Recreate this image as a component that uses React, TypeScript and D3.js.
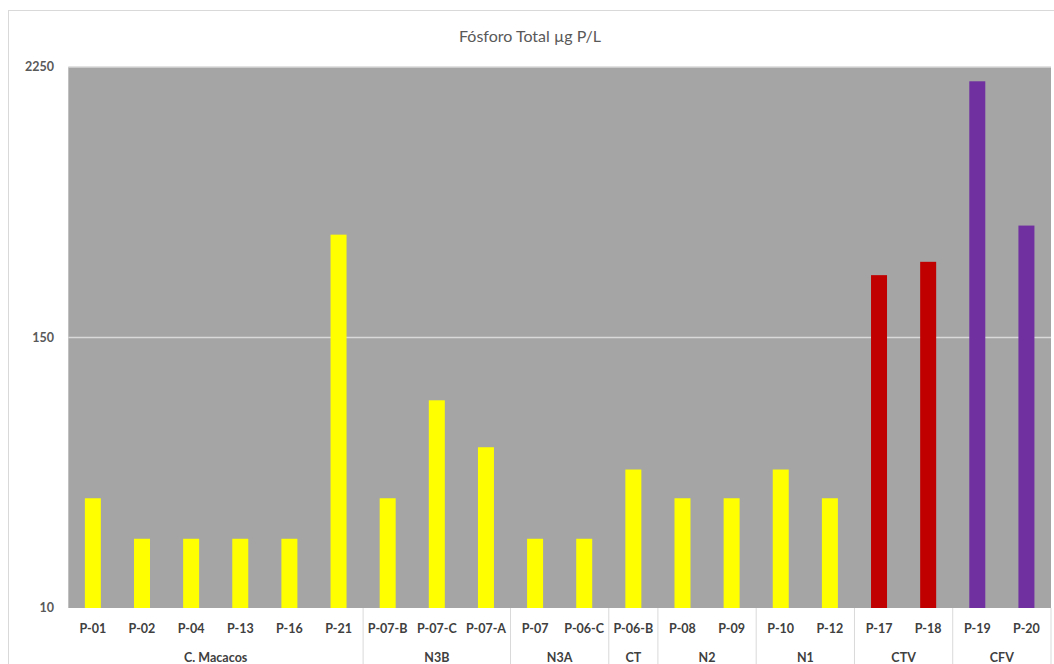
import React from "react";
import * as d3 from "d3";

const categories = ["P-01","P-02","P-04","P-13","P-16","P-21","P-07-B","P-07-C","P-07-A","P-07","P-06-C","P-06-B","P-08","P-09","P-10","P-12","P-17","P-18","P-19","P-20"];
const values = [30,20,20,20,20,420,30,80,50,20,20,40,30,30,40,30,280,320,1950,460];
const groups = ["C. Macacos","N3B","N3A","CT","N2","N1","CTV","CFV"];
const groupSizes = [6,3,2,1,2,2,2,2];
const groupColors: Record<string,string> = { CTV: "#C00000", CFV: "#7030A0" };
const yTicks = [10,150,2250];
const title = "Fósforo Total µg P/L";

export default function App() {
  const W = 1054, H = 664;
  const x0 = 68.3, x1 = 1051;
  const y0 = 608, y1 = 67;
  const x = d3.scaleBand<string>().domain(categories).range([x0, x1]).paddingInner(0).paddingOuter(0);
  const y = d3.scaleLog().domain([10, 2250]).range([y0, y1]);
  const bw = 16;
  const font = "Lato, 'Open Sans', sans-serif";

  const catGroup: string[] = [];
  groups.forEach((g, i) => { for (let k = 0; k < groupSizes[i]; k++) catGroup.push(g); });
  let acc = 0;
  const groupSpans = groups.map((g, i) => {
    const s = acc; acc += groupSizes[i];
    return { g, start: x0 + s * x.step(), end: x0 + acc * x.step() };
  });

  return (
    <svg width={W} height={H} style={{ position: "absolute", left: 0, top: 0 }}>
      <rect x={0} y={0} width={W} height={H} fill="#fff" />
      <rect x={8.5} y={10.5} width={W + 10} height={H} fill="#fff" stroke="#d9d9d9" strokeWidth={1} />
      <text x={530} y={42} textAnchor="middle" fontFamily={font} fontSize={16} fill="#595959">{title}</text>
      <rect x={x0} y={y1} width={x1 - x0} height={y0 - y1} fill="#A5A5A5" />
      {yTicks.map(t => (
        <g key={t}>
          {t !== 10 && <line x1={x0} x2={x1} y1={y(t)} y2={y(t)} stroke="#d9d9d9" strokeWidth={1.3} />}
          <text x={54} y={y(t) + 4} textAnchor="end" fontFamily={font} fontSize={12.5} fontWeight="bold" fill="#595959">{t}</text>
        </g>
      ))}
      {categories.map((c, i) => (
        <rect key={c}
          x={(x(c) as number) + x.bandwidth() / 2 - bw / 2}
          y={y(values[i])}
          width={bw}
          height={y0 - y(values[i])}
          fill={groupColors[catGroup[i]] || "#FFFF00"} />
      ))}
      {categories.map(c => (
        <text key={c} x={(x(c) as number) + x.bandwidth() / 2} y={632.5} textAnchor="middle" fontFamily={font} fontSize={12.5} fontWeight="bold" fill="#404040">{c}</text>
      ))}
      {groupSpans.map((s, i) => (
        <g key={s.g}>
          {i > 0 && <line x1={s.start} x2={s.start} y1={y0} y2={H} stroke="#d9d9d9" strokeWidth={1} />}
          <text x={(s.start + s.end) / 2} y={661.5} textAnchor="middle" fontFamily={font} fontSize={12.5} fontWeight="bold" fill="#404040">{s.g}</text>
        </g>
      ))}
      <line x1={x1} x2={x1} y1={y0} y2={H} stroke="#d9d9d9" strokeWidth={1} />
    </svg>
  );
}
